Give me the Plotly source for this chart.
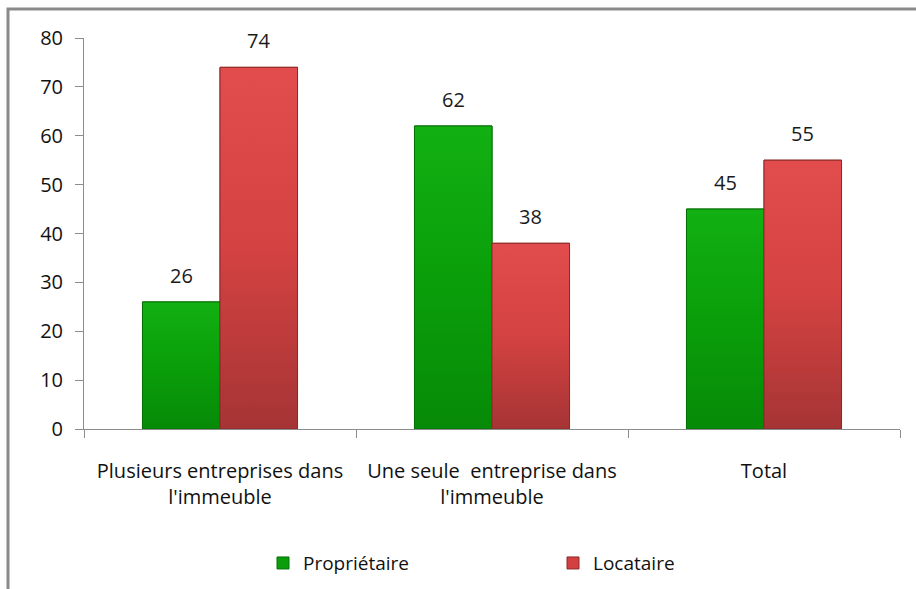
import plotly.graph_objects as go

categories = ["Plusieurs entreprises dans<br>l'immeuble",
              "Une seule  entreprise dans<br>l'immeuble",
              "Total"]
proprietaire = [26, 62, 45]
locataire = [74, 38, 55]
series_names = ["Propriétaire", "Locataire"]
y_ticks = [0, 10, 20, 30, 40, 50, 60, 70, 80]

FONT = "'Open Sans', Lato, sans-serif"
BAR_GAP = 0.43
bar_w = (1 - BAR_GAP) / 2

base_colors = ["#0a9e0a", "#d43f3f"]
grad_scales = [
    [[0, "#078a07"], [0.5, "#0a9f0a"], [1, "#12b012"]],
    [[0, "#a63434"], [0.5, "#d44242"], [1, "#e24c4c"]],
]
edge_colors = ["#067006", "#8c2a2a"]

fig = go.Figure()
xs = list(range(len(categories)))

for k, (name, vals) in enumerate(zip(series_names, [proprietaire, locataire])):
    fig.add_trace(go.Bar(
        x=xs, y=vals, name=name, width=bar_w,
        offset=(k - 1) * bar_w,
        marker=dict(color=base_colors[k], line=dict(color=edge_colors[k], width=1)),
        hoverinfo="skip",
    ))

# vertical shading on each bar, built from the same values and offsets
for k, vals in enumerate([proprietaire, locataire]):
    for i, v in enumerate(vals):
        x0 = i + (k - 1) * bar_w
        x1 = x0 + bar_w
        fig.add_trace(go.Scatter(
            x=[x0, x1, x1, x0, x0], y=[0, 0, v, v, 0],
            mode="lines", fill="toself",
            line=dict(color=edge_colors[k], width=1),
            fillgradient=dict(type="vertical", colorscale=grad_scales[k]),
            showlegend=False, hoverinfo="skip",
        ))
    for i, v in enumerate(vals):
        fig.add_annotation(
            x=i + (k - 0.5) * bar_w, y=v, xref="x", yref="y",
            text=str(v), showarrow=False, yanchor="bottom", yshift=11,
            font=dict(family=FONT, size=20, color="#1a1a1a"),
        )

boundaries = [i - 0.5 for i in range(len(categories) + 1)]

fig.update_layout(
    width=916, height=589,
    margin=dict(l=84, r=16, t=38, b=160, autoexpand=False),
    paper_bgcolor="white", plot_bgcolor="white",
    font=dict(family=FONT, size=20, color="#111"),
    barmode="overlay",
    showlegend=True,
    legend=dict(orientation="h", x=(277 - 14 - 84) / 816, xanchor="left",
                y=-0.343, yanchor="middle",
                entrywidth=245, entrywidthmode="pixels",
                font=dict(family=FONT, size=19, color="#111"),
                traceorder="normal"),
    xaxis=dict(
        tickmode="array", tickvals=xs, ticktext=categories,
        range=[-0.5, len(categories) - 0.5], automargin=False,
        showline=True, linecolor="#8c8c8c", linewidth=1,
        ticks="", showgrid=False, zeroline=False, ticklabelstandoff=24,
        minor=dict(tickmode="array", tickvals=boundaries, ticks="outside",
                   ticklen=8, tickcolor="#8c8c8c", showgrid=False),
        tickfont=dict(family=FONT, size=20, color="#111"),
    ),
    yaxis=dict(
        range=[0, 80], tickvals=y_ticks, automargin=False,
        showline=True, linecolor="#8c8c8c", linewidth=1,
        ticks="outside", ticklen=8, tickcolor="#8c8c8c",
        showgrid=False, zeroline=False, ticklabelstandoff=8,
        tickfont=dict(family=FONT, size=20, color="#111"),
    ),
    shapes=[dict(type="rect", xref="paper", yref="paper",
                 x0=(8 - 84) / 816, x1=(930 - 84) / 816,
                 y0=(429 - 600) / 391, y1=(429 - 9) / 391,
                 line=dict(color="#8a8a8a", width=3), layer="below")],
)

fig.write_html("out.html")
